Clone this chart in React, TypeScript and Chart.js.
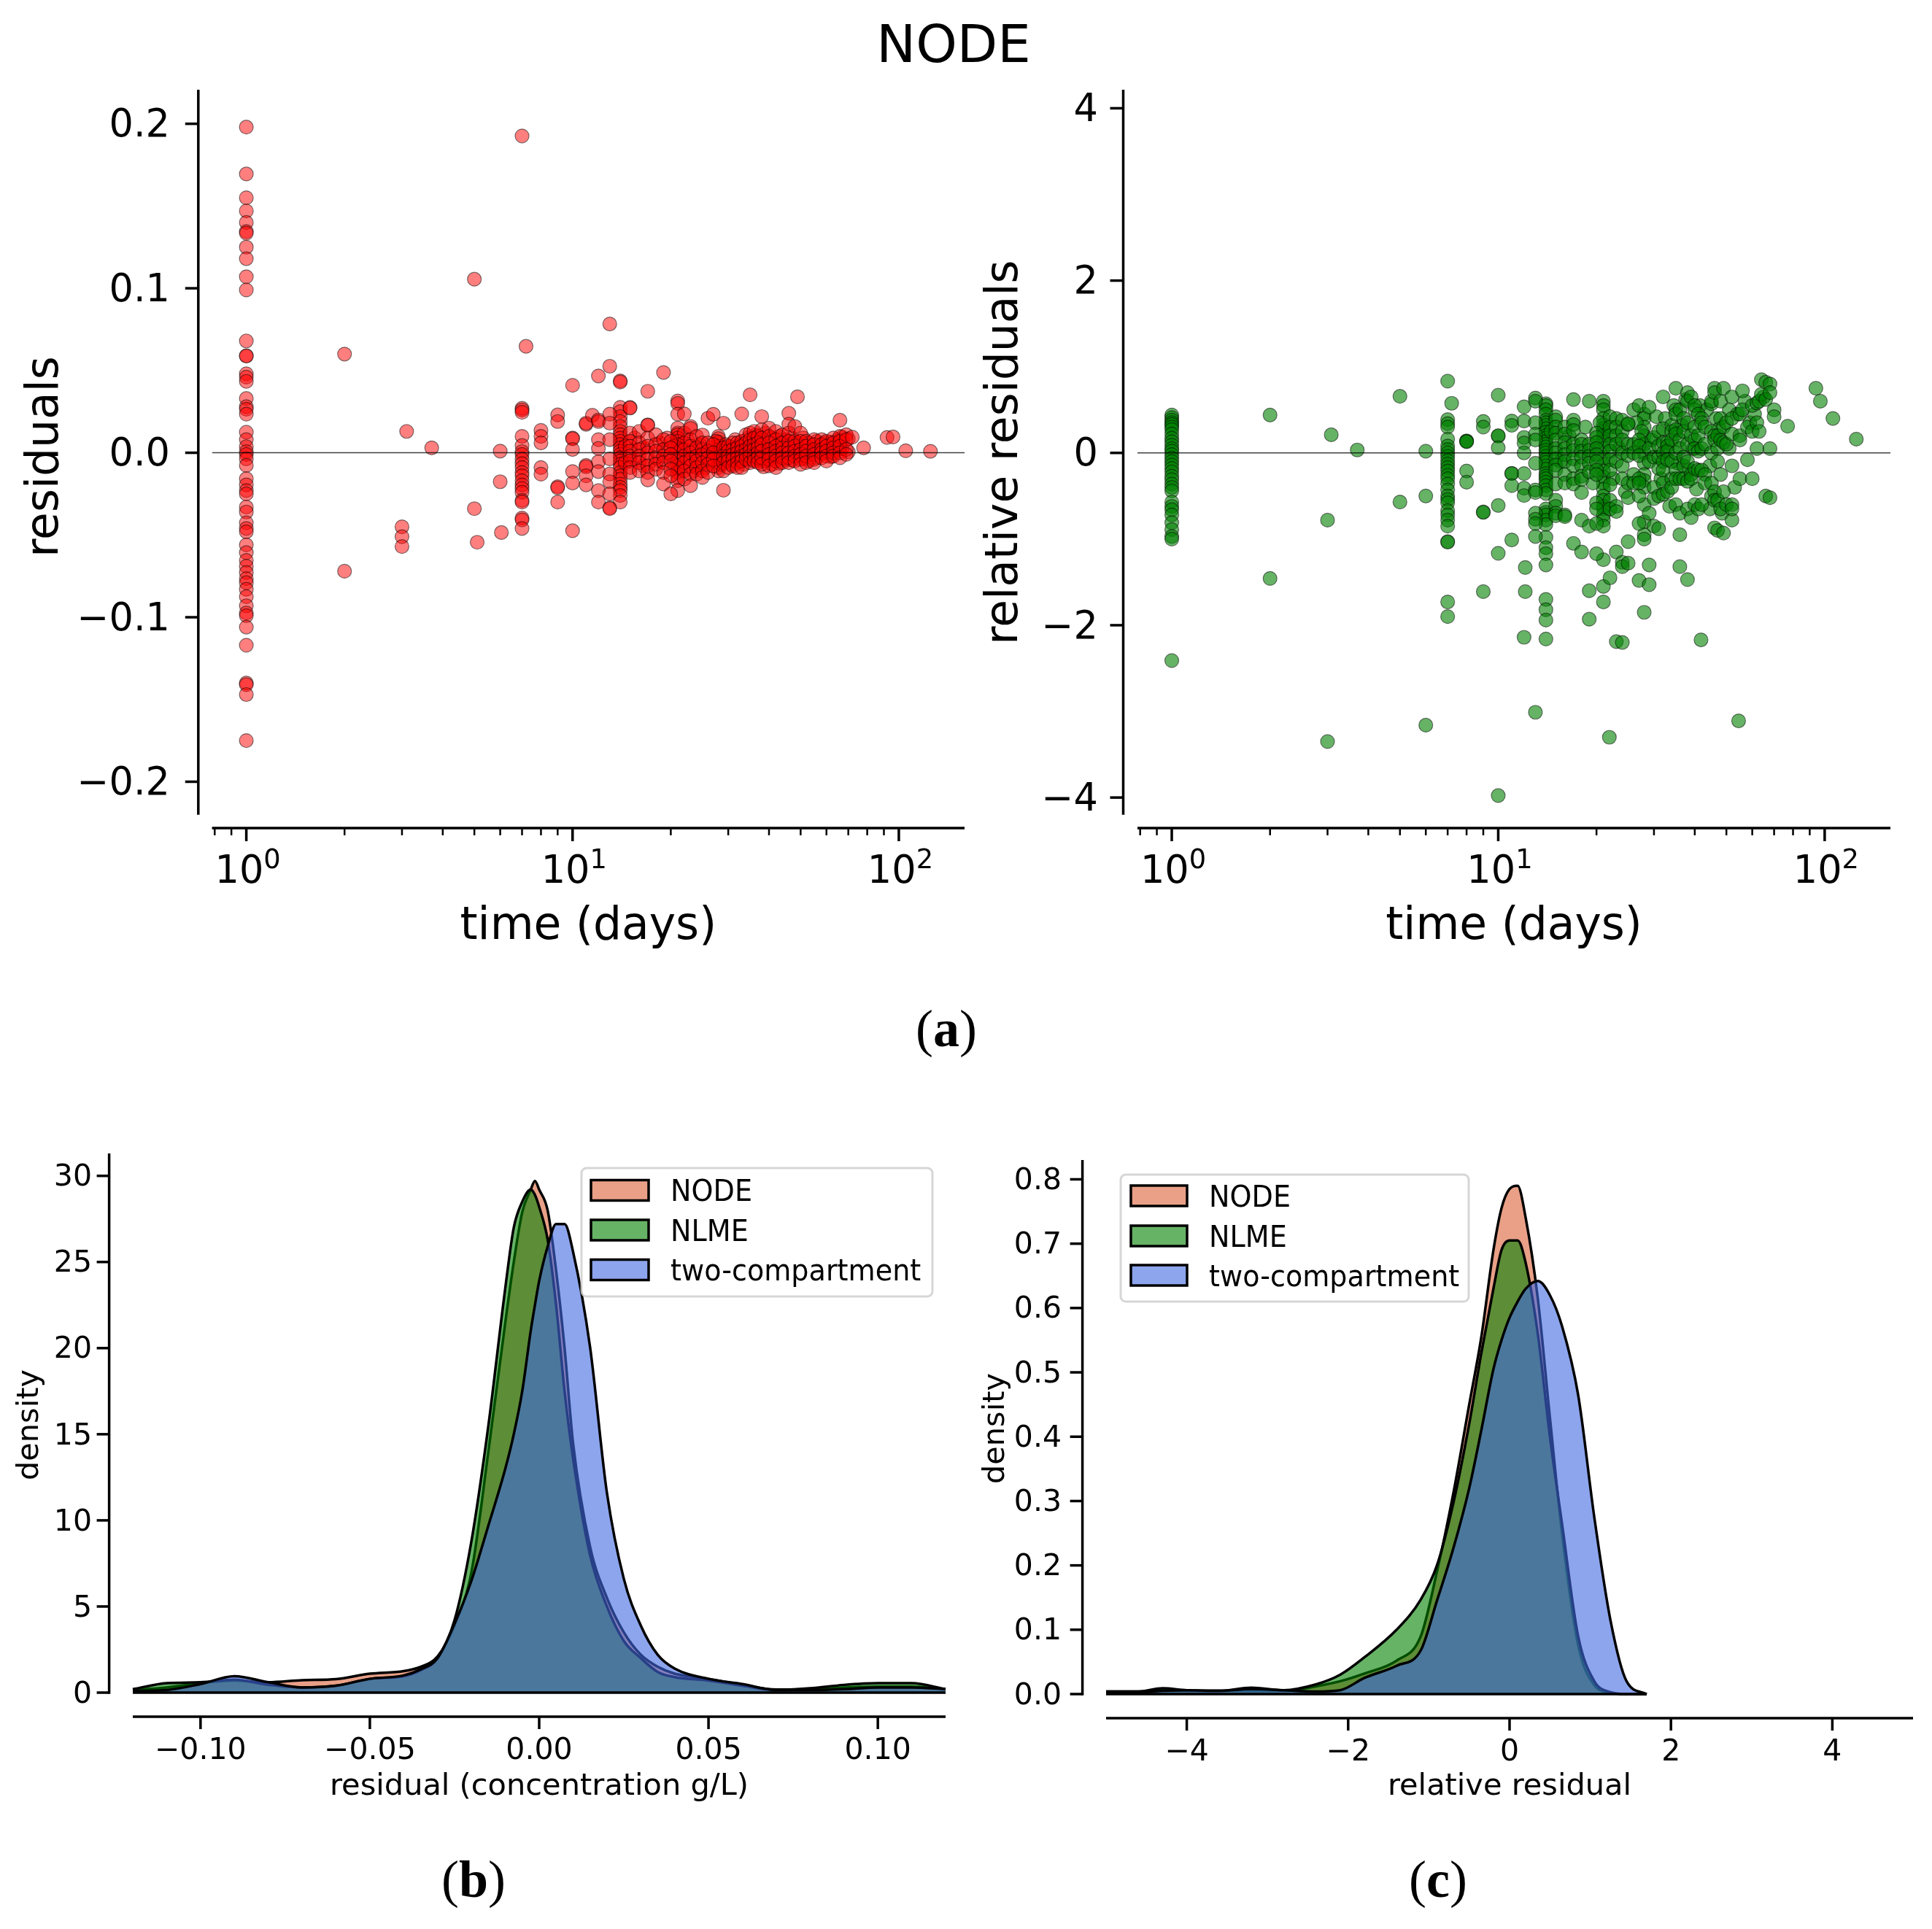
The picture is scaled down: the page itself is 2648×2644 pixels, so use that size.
import { useEffect, useRef } from "react";
import { Chart, registerables } from "chart.js";

Chart.register(...registerables);

type Pair = [number, number];

// ---- panel (a) left: residuals, one list per sampling day
const redDay1 = [0.198, 0.1695, 0.155, 0.147, 0.14, 0.1345, 0.1335, 0.125, 0.118, 0.107, 0.099, 0.068, 0.059, 0.0588, 0.048, 0.046, 0.0434, 0.033, 0.028, 0.0265, 0.0235, 0.0125, 0.008, 0.0037, 0.0007, -0.001, -0.0037, -0.0077, -0.0158, -0.0195, -0.023, -0.025, -0.033, -0.036, -0.0426, -0.046, -0.048, -0.056, -0.0607, -0.0654, -0.069, -0.0728, -0.0765, -0.079, -0.083, -0.0875, -0.093, -0.0974, -0.099, -0.106, -0.117, -0.14, -0.141, -0.147, -0.175];
const redDay7 = [0.1926, 0.027, 0.026, 0.0246, 0.01, 0.0044, 0.0007, -0.001, -0.004, -0.0066, -0.009, -0.012, -0.014, -0.017, -0.0195, -0.0217, -0.024, -0.029, -0.03, -0.0397, -0.0408, -0.046];
const redDay14 = [0.0437, 0.043, 0.0276, 0.025, 0.022, 0.019, 0.016, 0.013, 0.011, 0.009, 0.007, 0.005, 0.003, 0.001, -0.001, -0.003, -0.005, -0.007, -0.009, -0.012, -0.014, -0.016, -0.019, -0.021, -0.023, -0.026, -0.03];
const redDay21 = [0.0315, 0.03, 0.0235, 0.015, 0.012, 0.011, 0.009, 0.007, 0.005, 0.003, 0, -0.003, -0.005, -0.008, -0.01, -0.012, -0.015, -0.017, -0.023];
const redDay28 = [0.01, 0.0086, 0.0064, 0.004, 0.002, 0, -0.002, -0.004, -0.006, -0.009, -0.011];
const redOther: Pair[] = [
  [2, 0.06], [2, -0.072], [3, -0.045], [3, -0.051], [3, -0.057], [3.1, 0.013], [3.7, 0.003],
  [5, 0.1055], [5, -0.034], [5.1, -0.0544], [6, 0.001], [6, -0.0176], [6.05, -0.0485], [7.2, 0.0647],
  [8, 0.0136], [8, 0.01], [8, 0.006], [8, -0.009], [8, -0.013],
  [9, 0.023], [9, 0.019], [9, -0.0206], [9, -0.0213], [9, -0.03],
  [10, 0.041], [10, 0.009], [10, 0.0085], [10, 0.002], [10, -0.0114], [10, -0.0184], [10, -0.0474],
  [11, 0.0173], [11, 0.018], [11, -0.0077], [11, -0.0085], [11, -0.014], [11, -0.0195], [11.5, 0.0228],
  [12, 0.0467], [12, 0.02], [12, 0.019], [12, 0.008], [12, 0.0026], [12, -0.0055], [12, -0.0114], [12, -0.023], [12, -0.03],
  [13, 0.0783], [13, 0.0526], [13, 0.0235], [13, 0.018], [13, 0.008], [13, -0.0037], [13, -0.0129], [13, -0.0176], [13, -0.025], [13, -0.0335], [13, -0.034],
  [15, 0.0276], [15, 0.0272], [15, 0.012], [15, 0.007], [15, 0.004], [15, 0.001], [15, -0.002], [15, -0.005], [15, -0.009], [15, -0.012],
  [16, 0.013], [16, 0.006], [16, 0.002], [16, -0.002], [16, -0.006], [16, -0.011],
  [17, 0.0374], [17, 0.017], [17, 0.0167], [17, 0.009], [17, 0.004], [17, 0], [17, -0.004], [17, -0.008], [17, -0.012], [17, -0.0165],
  [18, 0.011], [18, 0.005], [18, 0.001], [18, -0.003], [18, -0.007], [18, -0.01],
  [19, 0.0488], [19, 0.008], [19, 0.002], [19, -0.002], [19, -0.006], [19, -0.012], [19, -0.019],
  [20, 0.007], [20, 0.003], [20, -0.001], [20, -0.005], [20, -0.01], [20, -0.014], [20, -0.025],
  [22, 0.0236], [22, 0.012], [22, 0.006], [22, 0.002], [22, -0.002], [22, -0.006], [22, -0.011], [22, -0.016],
  [23, 0.016], [23, 0.0148], [23, 0.008], [23, 0.004], [23, 0], [23, -0.004], [23, -0.008], [23, -0.013], [23, -0.02],
  [24, 0.01], [24, 0.003], [24, -0.002], [24, -0.005], [24, -0.009], [24, -0.013],
  [25, 0.0108], [25, 0.006], [25, 0.002], [25, -0.001], [25, -0.006], [25, -0.011], [25, -0.015],
  [26, 0.021], [26, 0.006], [26, 0.001], [26, -0.003], [26, -0.007], [26, -0.012],
  [27, 0.0234], [27, 0.005], [27, 0], [27, -0.004], [27, -0.008],
  [29, 0.018], [29, 0.003], [29, -0.002], [29, -0.006], [29, -0.011], [29, -0.0228],
  [30, 0.004], [30, 0.001], [30, -0.002], [30, -0.005], [30, -0.009],
  [31, 0.006], [31, 0.002], [31, -0.001], [31, -0.004], [31, -0.008],
  [32, 0.006], [32, 0.003], [32, 0], [32, -0.003], [32, -0.006], [32, -0.009],
  [33, 0.0236], [33, 0.007], [33, 0.004], [33, 0.001], [33, -0.002], [33, -0.005], [33, -0.009],
  [34, 0.011], [34, 0.006], [34, 0.002], [34, -0.001], [34, -0.004],
  [35, 0.0352], [35, 0.012], [35, 0.008], [35, 0.004], [35, 0.001], [35, -0.002], [35, -0.006],
  [36, 0.013], [36, 0.009], [36, 0.005], [36, 0.002], [36, -0.002], [36, -0.005],
  [37, 0.01], [37, 0.006], [37, 0.003], [37, 0], [37, -0.003], [37, -0.006],
  [38, 0.022], [38, 0.014], [38, 0.009], [38, 0.005], [38, 0.001], [38, -0.003], [38, -0.007],
  [40, 0.015], [40, 0.01], [40, 0.006], [40, 0.002], [40, -0.001], [40, -0.004], [40, -0.008],
  [42, 0.013], [42, 0.008], [42, 0.004], [42, 0.001], [42, -0.002], [42, -0.005], [42, -0.009],
  [44, 0.011], [44, 0.006], [44, 0.003], [44, 0], [44, -0.003], [44, -0.006],
  [46, 0.024], [46, 0.0174], [46, 0.012], [46, 0.007], [46, 0.003], [46, 0], [46, -0.003], [46, -0.006],
  [48.9, 0.034], [48, 0.016], [48, 0.007], [48, 0.004], [48, 0.001], [48, -0.002], [48, -0.005],
  [50, 0.012], [50, 0.007], [50, 0.002], [50, -0.001], [50, -0.004], [50, -0.007],
  [52, 0.007], [52, 0.004], [52, 0.001], [52, -0.002], [52, -0.006],
  [55, 0.008], [55, 0.005], [55, 0.002], [55, -0.001], [55, -0.004], [55, -0.006],
  [58, 0.008], [58, 0.005], [58, 0.002], [58, 0], [58, -0.003],
  [60, 0.007], [60, 0.004], [60, 0.001], [60, -0.002], [60, -0.005],
  [63, 0.009], [63, 0.006], [63, 0.003], [63, 0], [63, -0.002],
  [66, 0.0198], [66, 0.01], [66, 0.007], [66, 0.004], [66, 0], [66, -0.003],
  [69, 0.011], [69, 0.008], [69, 0.002], [69, -0.001], [72, 0.0095],
  [78, 0.003], [92, 0.0093], [96, 0.0096], [105, 0.0012], [125, 0.0009],
];
const redBetweenDays: Pair[] = [
  [14.5, 0.004], [14.5, -0.006], [15.5, 0.009], [15.5, -0.004], [16.5, 0.003], [16.5, -0.008], [18.5, 0.006], [18.5, -0.005], [19.5, 0.009], [19.5, 0],
  [20.5, 0.004], [20.5, -0.007], [21.5, 0.002], [21.5, -0.009], [22.5, 0.008], [22.5, -0.004], [23.5, 0.001], [23.5, -0.011], [24.5, 0.005], [24.5, -0.007],
  [25.5, 0], [25.5, -0.009], [26.5, 0.003], [26.5, -0.005], [27.5, 0.007], [27.5, -0.002], [28.5, 0.001], [28.5, -0.007], [29.5, 0.005], [29.5, -0.004],
  [30.5, 0.0035], [30.5, -0.007], [31.5, 0.008], [31.5, -0.003], [32.5, 0.0045], [32.5, -0.0055], [33.5, 0.0015], [33.5, -0.007], [34.5, 0.009], [34.5, -0.0025],
  [35.5, 0.006], [35.5, -0.004], [36.5, 0.011], [36.5, -0.001], [37.5, 0.0075], [37.5, -0.0045], [38.5, 0.003], [38.5, -0.0085], [39, 0.012], [39, 0.0005], [39, -0.005],
  [41, 0.009], [41, 0.003], [41, -0.003], [41, -0.007], [43, 0.01], [43, 0.005], [43, -0.001], [43, -0.0065], [45, 0.008], [45, 0.002], [45, -0.004],
  [47, 0.009], [47, 0.001], [47, -0.0045], [49, 0.006], [49, -0.0015], [51, 0.009], [51, 0.003], [51, -0.0035], [53, 0.006], [53, -0.0005], [53, -0.005],
  [56, 0.007], [56, 0.001], [56, -0.003], [59, 0.006], [59, 0], [62, 0.0065], [62, 0.001], [62, -0.0025], [65, 0.008], [65, 0.002], [67, 0.0095], [67, 0.0025], [70, 0.0085], [70, 0.0005],
];

// ---- panel (a) right: relative residuals
const greenDay1 = [0.44, 0.41, 0.38, 0.35, 0.33, 0.3, 0.27, 0.22, 0.17, 0.13, 0.09, 0.05, 0.02, -0.02, -0.06, -0.1, -0.14, -0.18, -0.22, -0.27, -0.31, -0.36, -0.4, -0.44, -0.57, -0.62, -0.66, -0.72, -0.81, -0.89, -0.97, -1.0, -2.41];
const greenDay7 = [0.833, 0.386, 0.34, 0.3, 0.16, 0.08, 0.04, 0, -0.04, -0.09, -0.13, -0.17, -0.21, -0.26, -0.3, -0.36, -0.43, -0.5, -0.54, -0.58, -0.67, -0.72, -0.78, -0.85, -1.03, -1.035, -1.73, -1.9];
const greenDay14 = [0.57, 0.55, 0.5, 0.45, 0.38, 0.35, 0.32, 0.28, 0.24, 0.2, 0.17, 0.13, 0.1, 0.07, 0.03, 0, -0.04, -0.08, -0.11, -0.15, -0.19, -0.24, -0.27, -0.3, -0.34, -0.38, -0.43, -0.47, -0.65, -0.69, -0.72, -0.78, -0.83, -0.98, -1.1, -1.17, -1.3, -1.7, -1.82, -1.94, -2.16];
const greenDay21 = [0.6, 0.55, 0.5, 0.4, 0.33, 0.28, 0.25, 0.2, 0.13, 0.05, -0.05, -0.13, -0.21, -0.28, -0.35, -0.42, -0.5, -0.55, -0.62, -0.65, -0.72, -0.78, -0.85, -1.24, -1.55, -1.73];
const greenDay28 = [0.45, 0.4, 0.3, 0.2, 0.1, 0, -0.12, -0.25, -0.32, -0.4, -0.6, -0.8, -0.95, -1.0, -1.85];
const greenOther: Pair[] = [
  [2, 0.44], [2, -1.457], [3.08, 0.21], [3, -0.78], [3, -3.35], [3.7, 0.034], [5, 0.657], [5, -0.57], [6, 0.02], [6, -0.5], [6, -3.16], [7.2, 0.576],
  [8, 0.14], [8, 0.135], [8, 0.13], [8, -0.21], [8, -0.34], [9, 0.366], [9, 0.3], [9, -0.685], [9, -0.69], [9, -1.61],
  [10, 0.67], [10, 0.195], [10, 0.2], [10, 0.06], [10, -0.61], [10, -1.165], [10, -3.977],
  [11, 0.37], [11, 0.32], [11, -0.237], [11, -0.24], [11, -0.38], [11, -1.01],
  [12, 0.535], [12, 0.37], [12, 0.18], [12, 0.115], [12, 0], [12, -0.24], [12, -0.41], [12, -0.495], [12.1, -1.33], [12.1, -1.61], [12, -2.14],
  [13, 0.637], [13, 0.6], [13, 0.35], [13, 0.217], [13, 0.15], [13, -0.12], [13, -0.43], [13, -0.46], [13, -0.7], [13, -0.77], [13, -0.82], [13, -0.97], [13, -3.01],
  [15, 0.42], [15, 0.38], [15, 0.3], [15, 0.23], [15, 0.15], [15, 0.05], [15, 0], [15, -0.07], [15, -0.14], [15, -0.2], [15, -0.36], [15, -0.55], [15, -0.62], [15, -0.7], [15, -0.73],
  [16, 0.3], [16, 0.22], [16, 0.12], [16, 0.05], [16, -0.02], [16, -0.1], [16, -0.25], [16, -0.35], [16, -0.72], [16, -0.74],
  [17, 0.62], [17, 0.38], [17, 0.33], [17, 0.26], [17, 0.1], [17, 0.03], [17, -0.07], [17, -0.15], [17, -0.3], [17, -0.36], [17, -1.05],
  [18, 0.15], [18, 0.1], [18, 0.02], [18, -0.05], [18, -0.15], [18, -0.27], [18, -0.31], [18, -0.46], [18, -0.78], [18, -1.15],
  [19, 0.6], [19, 0.1], [19, 0.03], [19, -0.04], [19, -0.12], [19, -0.22], [19, -0.85], [19, -1.6], [19, -1.93],
  [20, 0.23], [20, 0.18], [20, 0.12], [20, 0.05], [20, -0.02], [20, -0.1], [20, -0.2], [20, -0.25], [20, -0.58], [20, -0.65], [20, -0.82], [20, -1.17],
  [22, 0.42], [22, 0.3], [22, 0.2], [22, 0.1], [22, 0.02], [22, -0.08], [22, -0.2], [22, -0.37], [22, -0.55], [22, -0.65], [22, -1.45], [21.9, -3.3],
  [23, 0.4], [23, 0.3], [23, 0.2], [23, 0.1], [23, -0.1], [23, -0.62], [23, -0.68], [23, -1.15], [23, -2.19],
  [24, 0.38], [24, 0.25], [24, 0.15], [24, 0], [24, -0.15], [24, -0.3], [24, -1.27], [24, -1.32], [24, -2.2],
  [25, 0.33], [25, 0.34], [25, 0.1], [25, -0.03], [25, -0.35], [25, -0.52], [25, -1.03], [25, -1.28],
  [26, 0.5], [26, 0.1], [26, 0], [26, -0.25], [26, -0.35],
  [27, 0.55], [27, 0.15], [27, 0.08], [27, -0.03], [27, -0.3], [27, -0.35], [27, -0.5], [27, -0.82], [27, -1.48],
  [29, 0.53], [29, 0.05], [29, -0.1], [29, -0.7], [29, -1.3], [29, -1.53],
  [30, 0.18], [30, -0.05], [30, -0.4], [30, -0.85], [30, -0.53],
  [31, 0.25], [31, 0.08], [31, -0.05], [31, -0.18], [31, -0.5], [31, -0.88],
  [32, 0.65], [32, 0.28], [32, 0.12], [32, 0], [32, -0.1], [32, -0.2], [32, -0.35], [32, -0.48],
  [33, 0.12], [33, 0.08], [33, 0.02], [33, -0.08], [33, -0.45],
  [34, 0.32], [34, 0.25], [34, 0.15], [34, -0.1], [34, -0.3], [34, -0.4],
  [35, 0.75], [35, 0.5], [35, 0.45], [35, 0.27], [35, 0.22], [35, 0], [35, -0.2], [35, -0.3], [35, -0.6],
  [36, 0.5], [36, 0.15], [36, 0.05], [36, -0.3], [36, -0.7], [36, -0.95], [36, -1.32],
  [37, 0.4], [37, 0.25], [37, -0.15], [37, -0.05], [37, -0.3],
  [38, 0.7], [38, 0.6], [38, 0.35], [38, 0.1], [38, -0.1], [38, -0.33], [38, -0.65], [38, -1.47],
  [39, 0.65], [39, 0.2], [39, -0.25], [39, -0.3], [39, -0.75],
  [40, 0.5], [40, 0.55], [40, 0.3], [40, 0.15], [40, 0.05], [40, -0.18], [40, -0.6],
  [41, 0.45], [41, 0.2], [41, 0.02], [41, -0.2], [41, -0.65],
  [42, 0.4], [42, 0.35], [42, 0.05], [42, -0.2], [42, -0.6], [41.8, -2.17],
  [43, 0.3], [43, 0.1], [43, -0.25], [43, -0.35],
  [45, 0.57], [45, 0.6], [45, 0.25], [45, 0], [45, -0.35], [45, -0.5],
  [46, 0.75], [46, 0.7], [46, 0.2], [46, 0.15], [46, -0.45], [46, -0.55], [46, -0.87],
  [47, 0.2], [47, 0.05], [47, -0.1], [47, -0.55], [47, -0.9],
  [48, 0.6], [48, 0.4], [48, 0.15], [48, -0.25], [48, -0.65],
  [49, 0.75], [49, 0.3], [49, 0.12], [49, -0.45], [49, -0.93],
  [50, 0.35], [50, 0.1], [50, -0.6],
  [52, 0.65], [52, 0.4], [52, 0.22], [52, -0.15], [52, -0.6], [52, -0.78], [52, -0.65],
  [55, 0.45], [55, 0.2], [55, 0.15], [55, -0.3], [54.5, -3.11], [56, 0.72], [56, 0.5],
  [58, 0.3], [58, -0.08], [60, 0.55], [60, 0.25], [60, -0.3], [62, 0.58], [62, 0.35], [62, 0.05], [63, 0.6], [63, 0.25],
  [64, 0.85], [64, 0.68], [66, 0.82], [66, 0.62], [66, -0.5], [68, 0.8], [68, 0.7], [68, 0.05], [68, -0.52], [70, 0.5], [70, 0.42],
  [77, 0.31], [94, 0.75], [97, 0.6], [106, 0.4], [125, 0.16],
];
const greenBetweenDays: Pair[] = [
  [14.5, 0.25], [15.5, -0.1], [16.5, 0.2], [18.5, 0.3], [19.5, -0.35], [20.5, 0.35], [22.5, -0.3], [23.5, 0.05], [24.5, -0.45], [26.5, 0.35],
  [27.5, 0.25], [29.5, 0.15], [30.5, 0.42], [31.5, -0.3], [32.5, 0.4], [33.5, -0.62], [34.5, 0.55], [35.5, -0.12], [36.5, 0.32], [37.5, 0.62],
  [38.5, -0.2], [39.5, 0.05], [40.5, -0.42], [41.5, 0.55], [43.5, 0.5], [44.5, -0.15], [44.5, -0.65], [46.5, 0.4], [47.5, 0.28], [48.5, -0.7],
  [51, 0.05], [51, 0.5], [53, -0.4], [54, 0.45], [57, 0.6], [59, 0.35], [61, 0.45], [65, 0.65],
];

const logTicks = [0.8, 0.9, 1, 2, 3, 4, 5, 6, 7, 8, 9, 10, 20, 30, 40, 50, 60, 70, 80, 90, 100];
const logTickExponents: Record<number, string> = { 1: "0", 10: "1", 100: "2" };
const residualTicks = [-0.2, -0.1, 0, 0.1, 0.2];
const residualTickLabels = ["−0.2", "−0.1", "0.0", "0.1", "0.2"];
const relativeTicks = [-4, -2, 0, 2, 4];
const relativeTickLabels = ["−4", "−2", "0", "2", "4"];

// ---- panels (b) and (c): density curves
const seriesNames = ["NODE", "NLME", "two-compartment"];

const residualGrid = [-0.12, -0.11, -0.1, -0.09, -0.08, -0.07, -0.06, -0.05, -0.04, -0.035, -0.03, -0.025, -0.02, -0.015, -0.01, -0.0075, -0.005, -0.0025, -0.00125, 0, 0.0025, 0.005, 0.0075, 0.01, 0.015, 0.02, 0.025, 0.03, 0.035, 0.04, 0.05, 0.06, 0.07, 0.08, 0.09, 0.1, 0.11, 0.12];
const residualNode = [0.15, 0.3, 0.55, 0.7, 0.6, 0.72, 0.78, 1.1, 1.25, 1.5, 2.1, 3.9, 7.0, 14, 21.5, 25, 27.9, 29.2, 29.7, 29.2, 28, 24.5, 20, 14.5, 8.5, 5.5, 3.5, 2.2, 1.5, 1.1, 0.8, 0.45, 0.18, 0.2, 0.3, 0.35, 0.35, 0.2];
const residualNlme = [0.2, 0.55, 0.6, 0.75, 0.45, 0.3, 0.4, 0.8, 0.95, 1.3, 2.0, 4.2, 8.8, 15.5, 23.5, 27, 28.5, 29.2, 28.9, 28.2, 26.3, 22.5, 17.5, 13.6, 8, 5, 3, 2, 1.2, 0.9, 0.7, 0.4, 0.15, 0.25, 0.45, 0.55, 0.55, 0.2];
const residualTwo = [0.1, 0.15, 0.5, 0.95, 0.6, 0.3, 0.4, 0.8, 1.0, 1.35, 2.0, 4.0, 6.5, 9.7, 13, 15, 17.5, 21, 22.5, 23.9, 25.9, 27.2, 27.2, 25.6, 20.1, 11.6, 6.6, 3.9, 2.2, 1.4, 0.8, 0.5, 0.15, 0.15, 0.2, 0.3, 0.3, 0.2];

const relativeGrid = [-5, -4.6, -4.3, -4, -3.6, -3.2, -2.8, -2.4, -2.1, -1.8, -1.4, -1.1, -0.9, -0.7, -0.5, -0.35, -0.2, -0.1, 0, 0.1, 0.2, 0.35, 0.5, 0.65, 0.85, 1.05, 1.25, 1.45, 1.7];
const relativeNode = [0.004, 0.004, 0.005, 0.005, 0.005, 0.005, 0.005, 0.012, 0.02, 0.032, 0.052, 0.09, 0.19, 0.31, 0.45, 0.555, 0.69, 0.755, 0.785, 0.79, 0.74, 0.615, 0.43, 0.25, 0.076, 0.014, 0.002, 0, 0];
const relativeNlme = [0.004, 0.004, 0.009, 0.006, 0.005, 0.01, 0.006, 0.015, 0.03, 0.057, 0.1, 0.147, 0.2, 0.295, 0.42, 0.53, 0.63, 0.69, 0.705, 0.705, 0.67, 0.56, 0.4, 0.265, 0.09, 0.02, 0.003, 0, 0];
const relativeTwo = [0.003, 0.003, 0.005, 0.006, 0.005, 0.008, 0.006, 0.004, 0.006, 0.025, 0.044, 0.068, 0.145, 0.225, 0.32, 0.41, 0.505, 0.55, 0.585, 0.61, 0.63, 0.642, 0.62, 0.572, 0.465, 0.275, 0.115, 0.02, 0];

const densityTicksB = [0, 5, 10, 15, 20, 25, 30];
const densityTicksC = [0, 0.1, 0.2, 0.3, 0.4, 0.5, 0.6, 0.7, 0.8];
const residualAxisTicks = [-0.1, -0.05, 0, 0.05, 0.1];
const residualAxisLabels = ["−0.10", "−0.05", "0.00", "0.05", "0.10"];
const relativeAxisTicks = [-4, -2, 0, 2, 4];
const relativeAxisLabels = ["−4", "−2", "0", "2", "4"];

const fillColors = ["rgba(218,97,55,0.6)", "rgba(0,128,0,0.6)", "rgba(65,105,225,0.6)"];
const FONT = "'DejaVu Sans'";

const toPoints = (xs: number[], ys: number[]) => xs.map((x, i) => ({ x, y: ys[i] }));
const dayPoints = (day: number, ys: number[]) => ys.map((y) => ({ x: day, y }));
const pairPoints = (pairs: Pair[]) => pairs.map(([x, y]) => ({ x, y }));

interface Box {
  x: number; y: number; w: number; h: number; // canvas on the page
  left: number; right: number; top: number; bottom: number; // plot area on the page
  dx: number; dy: number; // how far the spines sit off the plot area
  tickLen: number;
  yTitle: string; yTitleX: number; yTitleY: number; titleSize: number;
}

interface LegendBox { x: number; y: number; w: number; h: number; handleX: number; handleW: number; textX: number; rows: number[] }

// spines, tick marks and the y title are offset from the plot (seaborn despine look), so they are drawn here
const spinesPlugin = (box: Box, legend?: LegendBox) => ({
  id: "spines",
  afterDraw(chart: any) {
    const { ctx, scales, chartArea } = chart;
    const xs = scales.x;
    const ys = scales.y;
    const spineX = chartArea.left - box.dx;
    const spineY = chartArea.bottom + box.dy;
    ctx.save();
    ctx.strokeStyle = "#000";
    ctx.lineWidth = 3.5;
    ctx.lineCap = "butt";
    ctx.beginPath();
    ctx.moveTo(spineX, chartArea.top);
    ctx.lineTo(spineX, chartArea.bottom + 1.7);
    ctx.moveTo(chartArea.left, spineY);
    ctx.lineTo(chartArea.right, spineY);
    ctx.stroke();
    ys.ticks.forEach((t: any) => {
      const p = ys.getPixelForValue(t.value);
      ctx.beginPath();
      ctx.moveTo(spineX, p);
      ctx.lineTo(spineX - box.tickLen, p);
      ctx.stroke();
    });
    const isLog = xs.type === "logarithmic";
    xs.ticks.forEach((t: any) => {
      const p = xs.getPixelForValue(t.value);
      const exponent = logTickExponents[t.value];
      const major = !isLog || exponent;
      ctx.lineWidth = major ? 3.5 : 2.5;
      ctx.beginPath();
      ctx.moveTo(p, spineY);
      ctx.lineTo(p, spineY + (major ? box.tickLen : box.tickLen * 0.55));
      ctx.stroke();
      if (isLog && exponent) {
        // 10 with a raised exponent, the way mathtext sets it
        ctx.fillStyle = "#000";
        ctx.textBaseline = "alphabetic";
        ctx.textAlign = "left";
        ctx.font = `52.5px ${FONT}`;
        const baseWidth = ctx.measureText("10").width;
        ctx.font = `36.75px ${FONT}`;
        const expWidth = ctx.measureText(exponent).width;
        const start = p - (baseWidth + expWidth) / 2 + 2;
        const baseline = 1210 - box.y;
        ctx.fillText(exponent, start + baseWidth, baseline - 20);
        ctx.font = `52.5px ${FONT}`;
        ctx.fillText("10", start, baseline);
      }
    });
    // y axis title
    ctx.save();
    ctx.translate(box.yTitleX - box.x, box.yTitleY - box.y);
    ctx.rotate(-Math.PI / 2);
    ctx.fillStyle = "#000";
    ctx.font = `${box.titleSize}px ${FONT}`;
    ctx.textAlign = "center";
    ctx.textBaseline = "middle";
    ctx.fillText(box.yTitle, 0, 0);
    ctx.restore();
    if (legend) {
      const ox = -box.x;
      const oy = -box.y;
      ctx.fillStyle = "rgba(255,255,255,0.8)";
      ctx.strokeStyle = "rgba(204,204,204,0.8)";
      ctx.lineWidth = 3;
      ctx.beginPath();
      ctx.roundRect(legend.x + ox, legend.y + oy, legend.w, legend.h, 7);
      ctx.fill();
      ctx.stroke();
      ctx.font = `41px ${FONT}`;
      ctx.textAlign = "left";
      ctx.textBaseline = "middle";
      seriesNames.forEach((name, i) => {
        const cy = legend.rows[i] + oy;
        ctx.fillStyle = fillColors[i];
        ctx.strokeStyle = "#000";
        ctx.lineWidth = 3.5;
        ctx.beginPath();
        ctx.rect(legend.handleX + ox, cy - 14, legend.handleW, 28);
        ctx.fill();
        ctx.stroke();
        ctx.fillStyle = "#000";
        // the lower panels were squeezed a little when the figure was assembled
        ctx.save();
        ctx.translate(legend.textX + ox, cy + 4);
        ctx.scale(0.93, 1);
        ctx.fillText(name, 0, 0);
        ctx.restore();
      });
    }
    ctx.restore();
  },
});

const makeScales = (
  box: Box,
  xOpts: any,
  yOpts: any,
  xTitle: string,
  xTitleY: number,
  fontSize: number,
  xPad: number,
  yPad: number,
  yLabelOffset: number,
) => ({
  x: {
    ...xOpts,
    border: { display: false },
    grid: { display: false, drawTicks: false },
    afterFit(s: any) {
      s.height = box.y + box.h - box.bottom;
      s.paddingLeft = 0;
      s.paddingRight = 0;
    },
    ticks: { ...xOpts.ticks, autoSkip: false, maxRotation: 0, minRotation: 0, padding: xPad, color: "#000", font: { family: FONT, size: fontSize } },
    title: {
      display: true, text: xTitle, color: "#000",
      font: { family: FONT, size: box.titleSize },
      padding: { top: 0, bottom: box.y + box.h - xTitleY - (box.titleSize * 1.2) / 2 },
    },
  },
  y: {
    ...yOpts,
    border: { display: false },
    grid: { display: false, drawTicks: false },
    afterFit(s: any) {
      s.width = box.left - box.x;
      s.paddingTop = 0;
      s.paddingBottom = 0;
    },
    ticks: { ...yOpts.ticks, autoSkip: false, padding: yPad, labelOffset: yLabelOffset, color: "#000", font: { family: FONT, size: fontSize } },
  },
});

const padding = (box: Box) => ({ left: 0, top: box.top - box.y, right: box.x + box.w - box.right, bottom: 0 });

function useChart(ref: React.RefObject<HTMLCanvasElement | null>, build: () => any) {
  useEffect(() => {
    if (!ref.current) return;
    const chart = new Chart(ref.current, build());
    return () => chart.destroy();
  }, []);
}

const scatterConfig = (box: Box, color: string, sets: { x: number; y: number }[][], yMin: number, yMax: number, yTicks: number[], yLabels: string[], yPad: number) => ({
  type: "scatter",
  data: {
    datasets: [
      {
        type: "line",
        data: [{ x: 0.785, y: 0 }, { x: 159, y: 0 }],
        borderColor: "rgba(0,0,0,0.75)",
        borderWidth: 1.5,
        pointRadius: 0,
        order: 0,
      },
      ...sets.map((points) => ({
        data: points,
        backgroundColor: color,
        borderColor: "rgba(0,0,0,0.5)",
        borderWidth: 1.2,
        pointRadius: 9.5,
        order: 1,
      })),
    ],
  },
  options: {
    responsive: false,
    devicePixelRatio: 1,
    animation: false,
    layout: { padding: padding(box) },
    plugins: { legend: { display: false }, tooltip: { enabled: false } },
    scales: makeScales(
      box,
      {
        type: "logarithmic", min: 0.785, max: 159, bounds: "data",
        afterBuildTicks(s: any) { s.ticks = logTicks.map((value) => ({ value })); },
        ticks: { callback: () => "" },
      },
      {
        type: "linear", min: yMin, max: yMax,
        afterBuildTicks(s: any) { s.ticks = yTicks.map((value) => ({ value })); },
        ticks: { callback: (_v: number, i: number) => yLabels[i] },
      },
      "time (days)", 1271, 52.5, 44, yPad, 4,
    ),
  },
  plugins: [spinesPlugin(box)],
});

const densityConfig = (box: Box, legend: LegendBox, xs: number[], series: number[][], xMin: number, xMax: number, yMax: number, xTicks: number[], xLabels: string[], yTicks: number[], xTitle: string, yPad: number, baseEnd: number, digits: number) => ({
  type: "line",
  data: {
    datasets: [
      ...series.map((ys, i) => ({
        label: seriesNames[i],
        data: toPoints(xs, ys),
        fill: "origin",
        backgroundColor: fillColors[i],
        borderColor: "#000",
        borderWidth: 3.5,
        pointRadius: 0,
        cubicInterpolationMode: "monotone",
        clip: false,
        order: 3 - i,
      })),
      {
        label: "baseline",
        data: [{ x: xMin, y: 0 }, { x: baseEnd, y: 0 }],
        borderColor: "#000",
        borderWidth: 3.5,
        pointRadius: 0,
        clip: false,
        order: 0,
      },
    ],
  },
  options: {
    responsive: false,
    devicePixelRatio: 1,
    animation: false,
    layout: { padding: padding(box) },
    plugins: { legend: { display: false }, tooltip: { enabled: false } },
    scales: makeScales(
      box,
      {
        type: "linear", min: xMin, max: xMax,
        afterBuildTicks(s: any) { s.ticks = xTicks.map((value) => ({ value })); },
        ticks: { callback: (_v: number, i: number) => xLabels[i] },
      },
      {
        type: "linear", min: 0, max: yMax,
        afterBuildTicks(s: any) { s.ticks = yTicks.map((value) => ({ value })); },
        ticks: { callback: (v: number) => v.toFixed(digits) },
      },
      xTitle, 2449, 41, 56, yPad, 3,
    ),
  },
  plugins: [spinesPlugin(box, legend)],
});

const boxA: Box = { x: 0, y: 90, w: 1340, h: 1250, left: 290.6, right: 1322, top: 123, bottom: 1115, dx: 18.8, dy: 20, tickLen: 18, yTitle: "residuals", yTitleX: 63, yTitleY: 626, titleSize: 61.5 };
const boxA2: Box = { x: 1340, y: 90, w: 1308, h: 1250, left: 1559, right: 2591, top: 123, bottom: 1115, dx: 19.5, dy: 20, tickLen: 18, yTitle: "relative residuals", yTitleX: 1378, yTitleY: 620, titleSize: 61.5 };
const boxB: Box = { x: 0, y: 1560, w: 1340, h: 950, left: 182, right: 1296, top: 1581, bottom: 2320, dx: 32.4, dy: 33, tickLen: 17, yTitle: "density", yTitleX: 41, yTitleY: 1953, titleSize: 41.5 };
const boxC: Box = { x: 1340, y: 1560, w: 1308, h: 950, left: 1516, right: 2622, top: 1590, bottom: 2322, dx: 32.4, dy: 33, tickLen: 17, yTitle: "density", yTitleX: 1365, yTitleY: 1958, titleSize: 41.5 };

const legendB: LegendBox = { x: 797, y: 1601, w: 481, h: 176, handleX: 810, handleW: 79, textX: 919, rows: [1631.6, 1686, 1740.5] };
const legendC: LegendBox = { x: 1536, y: 1610, w: 477, h: 174, handleX: 1550, handleW: 77, textX: 1657, rows: [1639, 1694, 1748] };

const place = (box: Box) => ({ position: "absolute" as const, left: box.x, top: box.y });
const caption = (cx: number, cy: number): React.CSSProperties => ({
  position: "absolute", left: cx - 100, top: cy - 50, width: 200, height: 100, lineHeight: "100px", textAlign: "center",
  fontFamily: "'Liberation Serif'", fontWeight: "normal", fontSize: 72, color: "#000",
});

export default function App() {
  const refA = useRef<HTMLCanvasElement>(null);
  const refA2 = useRef<HTMLCanvasElement>(null);
  const refB = useRef<HTMLCanvasElement>(null);
  const refC = useRef<HTMLCanvasElement>(null);

  useChart(refA, () =>
    scatterConfig(boxA, "rgba(255,0,0,0.5)", [dayPoints(1, redDay1), pairPoints(redOther), pairPoints(redBetweenDays), dayPoints(7, redDay7), dayPoints(14, redDay14), dayPoints(21, redDay21), dayPoints(28, redDay28)],
      -0.2193, 0.2207, residualTicks, residualTickLabels, 57.6));
  useChart(refA2, () =>
    scatterConfig(boxA2, "rgba(0,128,0,0.6)", [dayPoints(1, greenDay1), pairPoints(greenOther), pairPoints(greenBetweenDays), dayPoints(7, greenDay7), dayPoints(14, greenDay14), dayPoints(21, greenDay21), dayPoints(28, greenDay28)],
      -4.185, 4.215, relativeTicks, relativeTickLabels, 54));
  useChart(refB, () =>
    densityConfig(boxB, legendB, residualGrid, [residualNode, residualNlme, residualTwo], -0.12, 0.12, 31.3, residualAxisTicks, residualAxisLabels, densityTicksB, "residual (concentration g/L)", 56, 0.12, 0));
  useChart(refC, () =>
    densityConfig(boxC, legendC, relativeGrid, [relativeNode, relativeNlme, relativeTwo], -5, 5, 0.83, relativeAxisTicks, relativeAxisLabels, densityTicksC, "relative residual", 61, 1.7, 1));

  return (
    <div style={{ position: "absolute", left: 0, top: 0, width: 2648, height: 2644, background: "#fff", overflow: "hidden" }}>
      <div style={{ position: "absolute", left: 1007, top: 18, width: 600, textAlign: "center", fontFamily: FONT, fontSize: 72, color: "#000" }}>NODE</div>
      <canvas ref={refA} width={boxA.w} height={boxA.h} style={place(boxA)} />
      <canvas ref={refA2} width={boxA2.w} height={boxA2.h} style={place(boxA2)} />
      <canvas ref={refB} width={boxB.w} height={boxB.h} style={place(boxB)} />
      <canvas ref={refC} width={boxC.w} height={boxC.h} style={place(boxC)} />
      <div style={caption(1297, 1410)}>(<b>a</b>)</div>
      <div style={caption(649, 2576)}>(<b>b</b>)</div>
      <div style={caption(1971, 2576)}>(<b>c</b>)</div>
    </div>
  );
}
